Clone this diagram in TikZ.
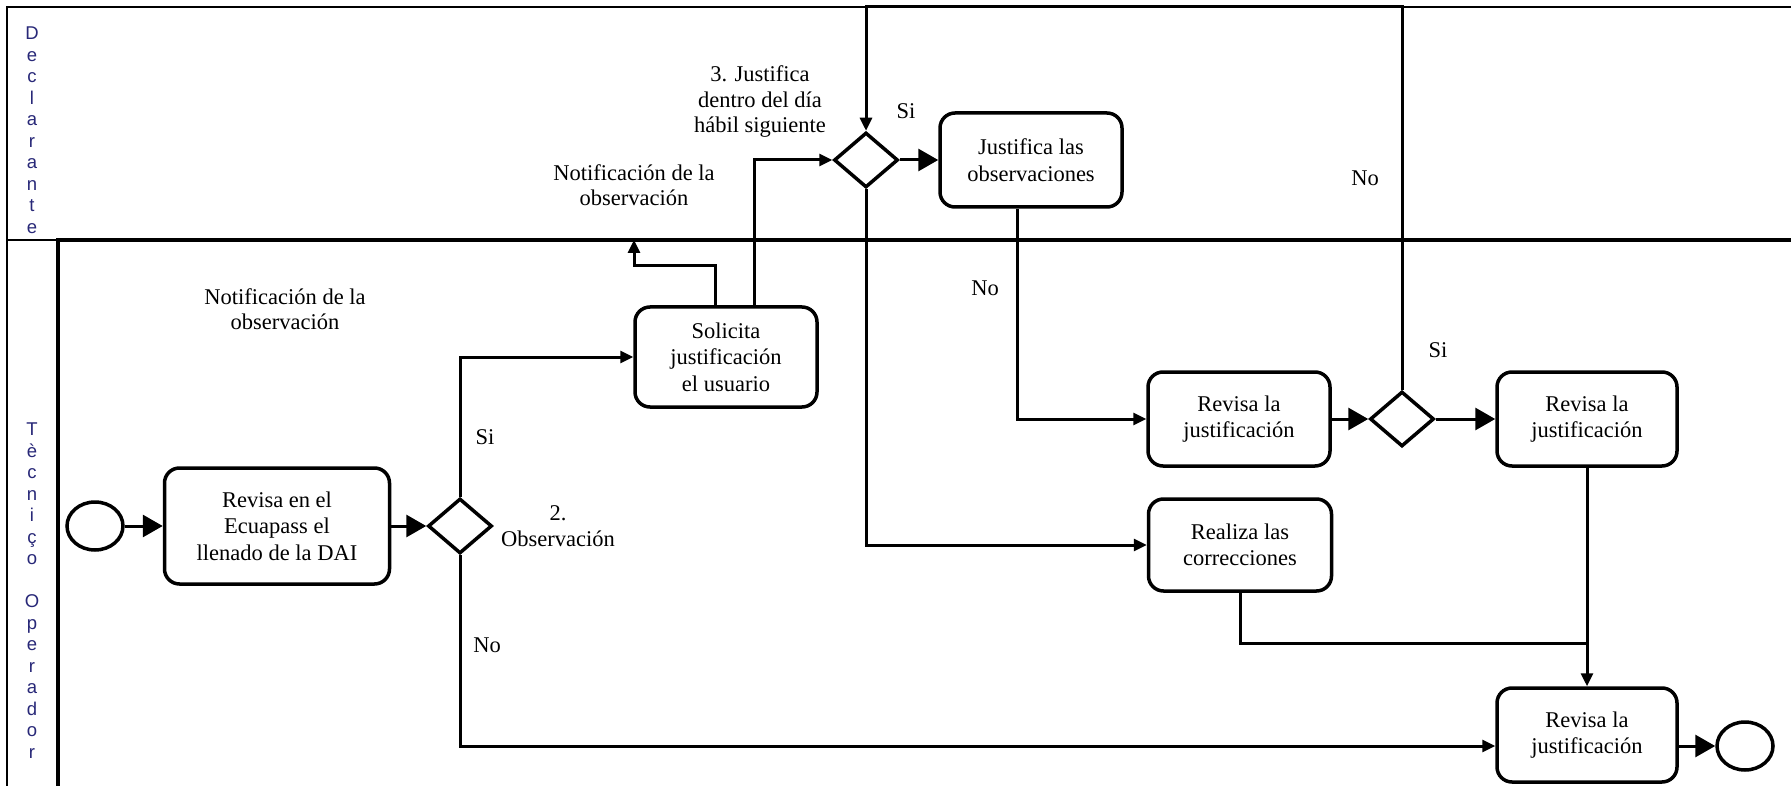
\documentclass[tikz,border=0pt]{standalone}
\usepackage{fontspec}
\setmainfont{Liberation Serif}
\newfontfamily\lanefont{Liberation Sans}
\usetikzlibrary{arrows.meta,shapes.geometric,calc}
\definecolor{lanecol}{RGB}{40,40,120}
\begin{document}
\begin{tikzpicture}[x=1pt,y=-1pt,
  task/.style={draw, line width=3.5pt, rounded corners=15pt, align=center, font=\fontsize{22.5}{26.5}\selectfont, inner sep=2pt},
  gate/.style={draw, diamond, line width=3.5pt, minimum width=64pt, minimum height=55pt, inner sep=0pt},
  event/.style={draw, ellipse, line width=3.5pt, minimum width=56pt, minimum height=48pt, inner sep=0pt},
  flow/.style={line width=3pt, -{Triangle[length=20pt,width=22pt]}},
  msg/.style={line width=3pt, -{Triangle[length=13pt,width=12pt]}},
  conn/.style={line width=3pt},
  lbl/.style={font=\fontsize{22.5}{25.5}\selectfont, align=center, inner sep=0pt},
  lane/.style={font=\lanefont\fontsize{18.5}{21.5}\selectfont, text=lanecol, align=center, anchor=north, inner sep=0pt},
  framethin/.style={line width=2pt},
  framethick/.style={line width=3.5pt}
]
\fill[white] (0,0) rectangle (1791,786);
\useasboundingbox (0,0) rectangle (1791,786);

% pool frame
\draw[framethin] (7,786) -- (7,7) -- (1791,7);
\draw[framethin] (7,240) -- (58,240);
\draw[framethick] (58,786) -- (58,240) -- (1791,240);

% lane labels
\node[lane] (laneD) at (32,27) {D\\e\\c\\l\\a\\r\\a\\n\\t\\e};
\node[lane] (laneT) at (32,423) {T\\è\\c\\n\\i\\ç\\o\\\mbox{}\\O\\p\\e\\r\\a\\d\\o\\r};

% nodes
\node[event] (start) at (95,526) {};
\node[task, minimum width=225pt, minimum height=116pt] (A) at (277,526) {Revisa en el\\Ecuapass el\\llenado de la DAI};
\node[gate] (G1) at (460,526) {};
\node[task, minimum width=182pt, minimum height=100pt] (B) at (726,357) {Solicita\\justificación\\el usuario};
\node[gate] (G3) at (866,160) {};
\node[task, minimum width=182pt, minimum height=94pt] (C) at (1031,160) {Justifica las\\observaciones};
\node[task, minimum width=182pt, minimum height=94pt] (D) at (1239,419) {Revisa la\\justificación};
\node[gate] (G4) at (1402,419) {};
\node[task, minimum width=180pt, minimum height=94pt] (F) at (1587,419) {Revisa la\\justificación};
\node[task, minimum width=183pt, minimum height=92pt] (E) at (1240,545) {Realiza las\\correcciones};
\node[task, minimum width=180pt, minimum height=94pt] (G) at (1587,735) {Revisa la\\justificación};
\node[event] (end) at (1745,746) {};

% labels
\node[lbl] (si1) at (485,437) {Si};
\node[lbl] (no1) at (487,645) {No};
\node[lbl] (obs2) at (558,526) {2.\\Observación};
\node[lbl] (notif1) at (285,309) {Notificación de la\\observación};
\node[lbl] (notif2) at (634,185) {Notificación de la\\observación};
\node[lbl] (just3) at (760,102) {3. Justifica\\dentro del día\\hábil siguiente};
\node[lbl] (si3) at (906,111) {Si};
\node[lbl] (no3) at (985,288) {No};
\node[lbl] (no4) at (1365,178) {No};
\node[lbl] (si4) at (1438,350) {Si};

% connectors
\coordinate (n1) at (634,240);
\coordinate (ttop) at (0,7);
\coordinate (join) at (1587,643);

\draw[flow] (start) -- (A);
\draw[flow] (A) -- (G1);
\draw[msg] (G1.north) |- (B.west);
\draw[msg] (G1.south) |- ([yshift=-11pt]G.west);
\draw[msg] ([xshift=-11pt]B.north) -- ++(0,-40) -| (n1);
\draw[msg] ([xshift=28pt]B.north) |- (G3.west);
\draw[msg] (G4.north) -- (G4.north |- ttop) -| (G3.north);
\draw[flow] (G3) -- (C);
\draw[msg] (G3.south) |- (E.west);
\draw[msg] ([xshift=-14pt]C.south) |- (D.west);
\draw[flow] (D) -- (G4);
\draw[flow] (G4) -- (F);
\draw[msg] (F.south) -- (G.north);
\draw[conn] (E.south) |- (join);
\draw[flow] ([yshift=-11pt]G.east) -- (end);
\end{tikzpicture}
\end{document}
